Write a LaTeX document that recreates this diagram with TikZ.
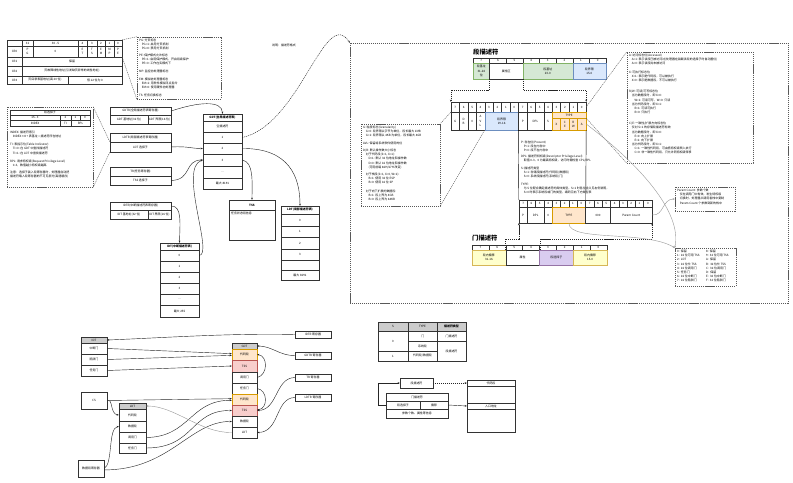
\documentclass[tikz,border=0pt]{standalone}
\usepackage{fontspec}
\setmainfont{Noto Sans CJK SC}
\usetikzlibrary{arrows.meta}
\definecolor{grnF}{HTML}{D5E8D4}\definecolor{grnD}{HTML}{82B366}
\definecolor{bluF}{HTML}{DAE8FC}\definecolor{bluD}{HTML}{6C8EBF}
\definecolor{orgF}{HTML}{FFE6CC}\definecolor{orgD}{HTML}{D79B00}
\definecolor{yelF}{HTML}{FFFFCC}\definecolor{yelD}{HTML}{D6B656}
\definecolor{purF}{HTML}{D9CCF0}\definecolor{purD}{HTML}{9673A6}
\definecolor{pnkF}{HTML}{F8CECC}\definecolor{pnkD}{HTML}{B85450}
\definecolor{hdrF}{HTML}{CCCCCC}
\newcommand{\tny}{\fontsize{4.2}{5.9}\selectfont}
\newcommand{\ind}{\hspace*{0.9em}}
\newcommand{\cel}[7][]{\node[cell,#1,minimum width={((#5)-(#3))*0.05cm},minimum height={((#6)-(#4))*0.05cm}] (#2) at ({((#3)+(#5))/2},{((#4)+(#6))/2}) {#7};}

\begin{document}
\begin{tikzpicture}[x=0.05cm, y=-0.05cm, line width=0.6pt,
  cell/.style={draw=black!80, inner sep=0pt, font=\tny, align=center},
  grn/.style={fill=grnF, draw=grnD},
  blu/.style={fill=bluF, draw=bluD},
  org/.style={fill=orgF, draw=orgD},
  yel/.style={fill=yelF, draw=yelD},
  pur/.style={fill=purF, draw=purD},
  pnk/.style={fill=pnkF, draw=pnkD},
  hdr/.style={fill=hdrF},
  dbox/.style={draw=black!65, dash pattern=on 1.6pt off 1.2pt},
  dline/.style={draw=black!65, dash pattern=on 1.6pt off 1.2pt},
  txt/.style={anchor=north west, align=left, inner sep=0pt, font=\tny},
  ttl/.style={anchor=west, inner sep=0pt, font=\fontsize{9}{10}\selectfont\bfseries},
  link/.style={draw=black!85, -{Stealth[length=3pt,width=2.4pt]}},
  dlink/.style={link, dash pattern=on 1.6pt off 1.2pt},
  glink/.style={link, draw=black!40}]
\useasboundingbox (0,0) rectangle (793,483);

\cel[dbox]{segArea}{350}{43}{788}{303}{}

\cel{crH0}{7}{40}{22}{46}{}
\foreach \n/\a/\b/\t in {1/22/33/31, 2/33/78/30 - 5, 3/78/87/4, 4/87/97/3, 5/97/105/2, 6/105/114/1, 7/114/122/0}
  {\cel{crH\n}{\a}{40}{\b}{46}{\t}}
\cel{cr0}{7}{46}{22}{57}{CR0}
\cel{crPG}{22}{46}{33}{57}{P\\G}
\cel{crRes}{33}{46}{78}{57}{0}
\cel{crET}{78}{46}{87}{57}{E\\T}
\cel{crTS}{87}{46}{97}{57}{T\\S}
\cel{crEM}{97}{46}{105}{57}{E\\M}
\cel{crMP}{105}{46}{114}{57}{M\\P}
\cel{crPE}{114}{46}{122}{57}{P\\E}
\cel{cr1}{7}{57}{22}{66}{CR1}
\cel{cr1v}{22}{57}{122}{66}{保留}
\cel{cr2}{7}{66}{22}{76}{CR2}
\cel{cr2v}{22}{66}{122}{76}{页故障线性地址(引发缺页异常的线性地址)}
\cel{cr3}{7}{76}{22}{84}{CR3}
\cel{cr3a}{22}{76}{68}{84}{页目录表基地址(高 20 位)}
\cel{cr3b}{68}{76}{122}{84}{低 12 位为 0}

\cel[dbox]{crNote}{137}{37}{221}{99}{}
\draw[dline] (crH7.north east) -- (crNote.north west);
\draw[dline] (crPE.south east) -- (crNote.south west);
\node[txt] (crT1) at (139,38.5) {PG: 分页标志\\\ind PG=1: 启用分页机制\\\ind PG=0: 禁用分页机制};
\node[txt] (crT2) at (139,53.5) {PE: 保护模式允许标志\\\ind PE=1: 启用保护模式，开启段级保护\\\ind PE=0: 工作在实模式下};
\node[txt] (crT3) at (139,69.5) {MP: 监控协处理器标志};
\node[txt] (crT4) at (139,77.5) {EM: 模拟协处理器标志\\\ind EM=1: 用软件模拟浮点指令\\\ind EM=0: 使用硬件协处理器};
\node[txt] (crT5) at (139,93.5) {TS: 任务切换标志};

\cel[dbox]{selNote}{7}{107}{93}{187}{}
\cel{selT}{10}{110}{90}{115}{段选择子}
\cel{selH1}{10}{115}{60}{120}{15 - 3}
\cel{selH2}{60}{115}{71}{120}{2}
\cel{selH3}{71}{115}{80}{120}{1}
\cel{selH4}{80}{115}{90}{120}{0}
\cel{selIdx}{10}{120}{60}{126}{INDEX}
\cel{selTI}{60}{120}{71}{126}{TI}
\cel{selRPL}{71}{120}{90}{126}{RPL}
\node[txt] (selT1) at (10,131) {INDEX: 描述符索引\\\ind INDEX×8 + 表基址 = 描述符所在地址};
\node[txt] (selT2) at (10,143) {TI: 表指示位(Table Indicator)\\\ind TI=0: 在 GDT 中查找描述符\\\ind TI=1: 在 LDT 中查找描述符};
\node[txt] (selT3) at (10,160) {RPL: 请求特权级(Request Privilege Level)\\\ind 0-3，数值越小特权级越高};
\node[txt] (selT4) at (10,171) {注意：选择子装入段寄存器时，处理器自动把\\描述符载入段寄存器的不可见部分(高速缓存)};

\cel{gdtrT}{110}{107}{171}{115}{GDTR(全局描述符表寄存器)}
\cel{gdtrB}{110}{115}{148}{124}{GDT 基地址(32 位)}
\cel{gdtrL}{148}{115}{171}{124}{GDT 界限(16 位)}
\cel{ldtrT}{110}{133}{171}{142}{LDTR(局部描述符表寄存器)}
\cel{ldtrSel}{110}{142}{171}{152}{LDT 选择子}
\cel{trT}{110}{167}{171}{176}{TR(任务寄存器)}
\cel{trSel}{110}{176}{171}{185}{TSS 选择子}
\cel{idtrT}{110}{202}{171}{210}{IDTR(中断描述符表寄存器)}
\cel{idtrB}{110}{210}{148}{219}{IDT 基地址(32 位)}
\cel{idtrL}{148}{210}{171}{219}{IDT 界限(16 位)}
\draw[dline] (selNote.north east) -- (ldtrSel.north west);
\draw[dline] (selNote.south east) -- (ldtrSel.south west);

\cel[font=\tny\bfseries]{gdtH}{203}{114}{242}{121}{GDT(全局描述符表)}
\foreach \n/\a/\b/\t in {0/121/132/空描述符, 1/132/143/1, 2/143/154/2, 3/154/166/3, 4/166/178/\ldots, 5/178/189/最大 8191}
  {\cel{gdt\n}{203}{\a}{242}{\b}{\t}}
\cel[font=\tny\bfseries]{tssH}{229}{200}{275}{210}{TSS}
\cel{tssB}{229}{210}{275}{240}{}
\node[txt] (tssT) at (231,212) {任务状态段信息};
\cel[font=\tny\bfseries]{ldtH}{281}{206}{319}{214}{LDT(局部描述符表)}
\foreach \n/\a/\b/\t in {0/214/226/0, 1/226/237/1, 2/237/249/2, 3/249/260/3, 4/260/270/{}, 5/270/280/最大 8191}
  {\cel{ldt\n}{281}{\a}{319}{\b}{\t}}
\cel[font=\tny\bfseries]{idtH}{160}{243}{199}{250}{IDT(中断描述符表)}
\foreach \n/\a/\b/\t in {0/250/261/0, 1/261/272/1, 2/272/283/2, 3/283/294/3, 4/294/305/\ldots, 5/305/317/最大 255}
  {\cel{idt\n}{160}{\a}{199}{\b}{\t}}

\draw[link] (gdtrT.east) .. controls (198,102) and (222,100) .. (gdtH.north);
\draw[link] (ldtrSel.east) .. controls (188,146) and (190,148.5) .. (gdt2.west);
\draw[link] (trSel.east) .. controls (192,180) and (184,160) .. (gdt3.west);
\draw[link] (idtrT.east) .. controls (182,206) and (180,222) .. (idtH.north);
\draw[link] (idt0.east) .. controls (214,255) and (178,168) .. (gdt3.west);
\draw[link] (gdt3.east) .. controls (254,162) and (252,182) .. (tssH.north);
\draw[link] (gdt2.east) .. controls (290,148) and (300,178) .. (ldtH.north);
\draw[dlink] (gdt1.east) .. controls (300,125) and (325,5) .. (segArea.north west);
\node[font=\tny] (segCap) at (284,45) {说明：描述符格式};

\node[ttl] (sdTitle) at (473,52) {段描述符};
\foreach \i [evaluate=\i as \b using {int(7-\i)}] in {0,...,7}
  {\cel{sdh\i}{473+\i*16.625}{58}{473+(\i+1)*16.625}{63}{\b}}
\cel[grn]{sdBaseHi}{473}{63}{489.63}{79}{段基址\\31-24\\位}
\cel{sdAttr}{489.63}{63}{522.88}{79}{属性区}
\cel[grn]{sdBaseLo}{522.88}{63}{572.75}{79}{段基址\\23-0}
\cel[blu]{sdLim}{572.75}{63}{606}{79}{段界限\\15-0}

\foreach \i [evaluate=\i as \b using {int(mod(15-\i,8))}] in {0,...,15}
  {\cel{exh\i}{451+\i*8.4375}{102}{451+(\i+1)*8.4375}{112}{\b}}
\cel{exG}{451}{112}{459.44}{130}{G}
\cel{exD}{459.44}{112}{467.88}{130}{D\\B}
\cel{exZ}{467.88}{112}{476.31}{130}{0}
\cel{exAvl}{476.31}{112}{484.75}{130}{A\\V\\L}
\cel[blu]{exLim}{484.75}{112}{518.5}{130}{段界限\\19-16}
\cel{exP}{518.5}{112}{526.94}{130}{P}
\cel{exDpl}{526.94}{112}{543.81}{130}{DPL}
\cel{exS}{543.81}{112}{552.25}{130}{S}
\cel[org]{exType}{552.25}{112}{586}{118}{TYPE}
\cel[org]{exX}{552.25}{118}{560.69}{130}{X}
\cel[org]{exE}{560.69}{118}{569.13}{130}{C\\E}
\cel[org]{exW}{569.13}{118}{577.56}{130}{R\\W}
\cel[org]{exA}{577.56}{118}{586}{130}{A}
\draw[dlink] (sdAttr.south west) -- ++(0,11) -| (exh0.north west);
\draw[dlink] (sdAttr.south east) -- ++(0,11) -| (exh15.north east);

\cel[dbox]{gNote}{361}{124}{440}{206}{}
\draw[dline] (exh0.south west) -- (gNote.north east);
\draw[dline] (exLim.south west) -- (gNote.south east);
\node[txt] (gn1) at (363,125.5) {G: 粒度标志(Granularity)\\\ind G=0: 段界限以字节为单位，段长最大 1MB\\\ind G=1: 段界限以 4KB 为单位，段长最大 4GB};
\node[txt] (gn2) at (363,142) {AVL: 保留给系统软件使用的位};
\node[txt] (gn3) at (363,149) {D/B: 默认操作数大小标志\\\ind 对于代码段(S=1, X=1):\\\ind\ind D=1: 默认 32 位地址和操作数\\\ind\ind D=0: 默认 16 位地址和操作数\\\ind\ind (可用前缀 66H/67H 改变)};
\node[txt] (gn4) at (363,172.5) {\ind 对于栈段(S=1, X=0, W=1):\\\ind\ind B=1: 使用 32 位 ESP\\\ind\ind B=0: 使用 16 位 SP};
\node[txt] (gn5) at (363,189.5) {\ind 对于向下扩展的数据段:\\\ind\ind B=1: 段上界为 4GB\\\ind\ind B=0: 段上界为 64KB};

\cel[dbox]{typeNote}{627}{52}{753}{163}{}
\draw[dline] (exh15.east) -- (typeNote.north west);
\draw[dline] (exType.south east) -- (typeNote.south west);
\node[txt] (tn1) at (629,53.5) {A: 访问标志位(Accessed)\\\ind A=1: 表示该段已被访问过(处理器在装载该段的选择子时自动置位)\\\ind A=0: 表示该段尚未被访问};
\node[txt] (tn2) at (629,70.5) {X: 可执行标志位\\\ind X=1: 表示是代码段，可以被执行\\\ind X=0: 表示是数据段，不可以被执行};
\node[txt] (tn3) at (629,90) {R/W: 可读/可写标志位\\\ind 当为数据段时，即 X=0:\\\ind\ind W=1: 可读可写，W=0: 只读\\\ind 当为代码段时，即 X=1:\\\ind\ind R=1: 可读可执行\\\ind\ind R=0: 只执行};
\node[txt] (tn4) at (629,122) {C/E: 一致性/扩展方向标志位\\\ind 仅对 S=1 的存储段描述符有效\\\ind 当为数据段时，即 X=0:\\\ind\ind E=0: 向上扩展\\\ind\ind E=1: 向下扩展\\\ind 当为代码段时，即 X=1:\\\ind\ind C=1: 一致性代码段，可由低特权级转入执行\\\ind\ind C=0: 非一致性代码段，只允许同特权级转移};

\node[txt] (un1) at (521,140.5) {P: 存在位(Present)\\\ind P=1: 段在内存中\\\ind P=0: 段不在内存中};
\node[txt] (un2) at (521,155) {DPL: 描述符特权级(Descriptor Privilege Level)\\\ind 取值 0-3，0 为最高特权级，访问时需检查 CPL/RPL};
\node[txt] (un3) at (521,167) {S: 描述符类型\\\ind S=1: 存储段描述符(代码段/数据段)\\\ind S=0: 系统段描述符(系统段/门)};
\node[txt] (un4) at (521,183) {TYPE:\\\ind 与 S 位配合确定描述符的具体类型。S=1 时各位含义见右侧说明，\\\ind S=0 时表示系统段或门的类型，编码见右下方类型表};

\foreach \i [evaluate=\i as \b using {int(mod(15-\i,8))}] in {0,...,15}
  {\cel{gah\i}{519+\i*8.3125}{200}{519+(\i+1)*8.3125}{207}{\b}}
\cel{gaP}{519}{207}{527.31}{223}{P}
\cel{gaDpl}{527.31}{207}{543.94}{223}{DPL}
\cel{gaS}{543.94}{207}{552.25}{223}{0}
\cel[org]{gaType}{552.25}{207}{585.5}{223}{TYPE}
\cel{gaZero}{585.5}{207}{610.44}{223}{000}
\cel{gaPar}{610.44}{207}{652}{223}{Param Count}
\draw (exP.south west) -- (gah0.north west);
\draw (exA.south east) -- (gah7.north east);

\node[ttl] (gdTitle) at (472,238) {门描述符};
\foreach \i [evaluate=\i as \b using {int(7-\i)}] in {0,...,7}
  {\cel{gdh\i}{472+\i*16.875}{245}{472+(\i+1)*16.875}{250}{\b}}
\cel[yel]{gdOffHi}{472}{250}{505.75}{265}{段内偏移\\31-16}
\cel{gdAttr}{505.75}{250}{539.5}{265}{属性}
\cel[pur]{gdSel}{539.5}{250}{573.25}{265}{段选择子}
\cel[yel]{gdOffLo}{573.25}{250}{607}{265}{段内偏移\\15-0}
\draw[dlink] (gdAttr.north west) -- ++(0,-11) -| (gaP.south west);
\draw[dlink] (gdAttr.north east) -- ++(0,-11) -| (gaPar.south east);

\cel[dbox]{pcNote}{675}{187}{735}{211}{}
\node[txt] (pcT) at (677,189) {Param Count: 参数个数\\\ind 仅在调用门中有效。发生特权级\\\ind 切换时，处理器从调用者栈中复制\\\ind Param Count 个参数到新的栈中};
\cel[dbox]{typeList}{675}{248}{736}{286}{}
\node[txt] (tlL) at (677,250) {0:\ \ 保留\\1:\ \ 16 位可用 TSS\\2:\ \ LDT\\3:\ \ 16 位忙 TSS\\4:\ \ 16 位调用门\\5:\ \ 任务门\\6:\ \ 16 位中断门\\7:\ \ 16 位陷阱门};
\node[txt] (tlR) at (706,250) {8:\ \ 保留\\9:\ \ 32 位可用 TSS\\A:\ \ 保留\\B:\ \ 32 位忙 TSS\\C:\ \ 32 位调用门\\D:\ \ 保留\\E:\ \ 32 位中断门\\F:\ \ 32 位陷阱门};
\draw[glink] (gaPar.east) .. controls (664,216) and (662,199) .. (pcNote.west);
\draw[glink] (exA.east) .. controls (640,165) and (682,212) .. (typeList.north west);
\draw[glink] (gaType.south) .. controls (569,242) and (645,230) .. (typeList.north west);

\cel[hdr]{bIdtH}{81}{337}{107}{343}{IDT}
\cel{bIdt1}{81}{343}{107}{354}{中断门}
\cel{bIdt2}{81}{354}{107}{365}{陷阱门}
\cel{bIdt3}{81}{365}{107}{376}{任务门}
\cel{bCs}{81}{392}{107}{409}{CS}
\cel[hdr]{bLdtH}{119}{403}{146}{409}{LDT}
\cel{bLdt1}{119}{409}{146}{421}{代码段}
\cel{bLdt2}{119}{421}{146}{432}{数据段}
\cel{bLdt3}{119}{432}{146}{443}{调用门}
\cel{bLdt4}{119}{443}{146}{453}{任务门}
\cel{bDs}{78}{460}{104}{477}{数据段寄存器}
\cel[hdr]{bGdtH}{232}{343}{257}{349}{GDT}
\cel[org]{bCode1}{232}{349}{257}{360}{代码段}
\cel[pnk]{bTss1}{232}{360}{257}{372}{TSS}
\cel{bCall}{232}{372}{257}{383}{调用门}
\cel{bTask}{232}{383}{257}{394}{任务门}
\cel[org]{bCode2}{232}{394}{257}{405}{代码段}
\cel[pnk]{bTss2}{232}{405}{257}{416}{TSS}
\cel{bData}{232}{416}{257}{427}{数据段}
\cel{bLdt}{232}{427}{257}{438}{LDT}
\cel{rIdtr}{295}{331}{331}{338}{IDTR 寄存器}
\cel{rGdtr}{295}{352}{331}{359}{GDTR 寄存器}
\cel{rTr}{295}{374}{331}{381}{TR 寄存器}
\cel{rLdtr}{295}{394}{331}{401}{LDTR 寄存器}

\draw[link] (rIdtr.west) .. controls (230,333) and (160,338) .. (bIdtH.east);
\draw[link] (rGdtr.west) .. controls (280,356) and (272,346) .. (bGdtH.east);
\draw[link] (rTr.west) .. controls (275,378) and (278,410) .. (bTss2.east);
\draw[link] (rLdtr.west) .. controls (275,398) and (280,432) .. (bLdt.east);
\draw[link] (bIdt1.east) -- ([yshift=1.2pt]bCode1.west);
\draw[link] (bIdt2.east) -- ([yshift=-1.2pt]bCode1.west);
\draw[link] (bIdt3.east) -- (bTss1.west);
\draw[link] (bCs.east) -- ([yshift=1.2pt]bCode2.west);
\draw[link] (bCs.east) .. controls (113,398) and (110,414) .. (bLdt1.west);
\draw[link] (bDs.east) .. controls (113,464) and (108,428) .. (bLdt2.west);
\draw[link] ([yshift=-2pt]bDs.east) .. controls (170,470) and (190,421) .. (bData.west);
\draw[link] (bLdt3.east) .. controls (190,437) and (190,400) .. ([yshift=-1.2pt]bCode2.west);
\draw[link] (bLdt4.east) .. controls (195,448) and (190,410) .. (bTss2.west);
\draw[glink] (bLdt.west) .. controls (200,433) and (175,406) .. (bLdtH.east);
\draw[link] (bCall.east) .. controls (268,375) and (268,356) .. (bCode1.east);
\draw[link] (bTask.east) .. controls (268,390) and (268,409) .. ([yshift=1pt]bTss2.east);

\cel[hdr]{tbS}{378}{322}{408}{331}{S}
\cel[hdr]{tbT}{408}{322}{437}{331}{TYPE}
\cel[hdr,font=\tny\bfseries]{tbK}{437}{322}{466}{331}{描述符类型}
\cel{tbS0}{378}{331}{408}{351}{0}
\cel{tbS1}{378}{351}{408}{361}{1}
\cel{tbT1}{408}{331}{437}{341}{门}
\cel{tbT2}{408}{341}{437}{351}{系统段}
\cel{tbT3}{408}{351}{437}{361}{代码段/数据段}
\cel{tbK1}{437}{331}{466}{341}{门描述符}
\cel{tbK2}{437}{341}{466}{361}{段描述符}

\cel{gmDesc}{400}{378}{433}{388}{段描述符}
\cel{gmGate}{386}{393}{448}{401}{门描述符}
\cel{gmSel}{386}{401}{420}{409}{段选择子}
\cel{gmOff}{420}{401}{448}{409}{偏移}
\cel{gmAttr}{386}{409}{448}{418}{参数个数、属性等信息}
\cel{gmSeg}{467}{380}{515}{386}{代码段}
\cel{gmUp}{467}{386}{515}{403}{}
\cel{gmEntry}{467}{403}{515}{409}{入口地址}
\cel{gmLow}{467}{409}{515}{432}{}
\draw[link] (gmSel.west) -- ++(-8,0) |- (gmDesc.west);
\draw[dlink] (gmDesc.east) -- (gmSeg.west);
\draw[link] (gmOff.east) -- (gmEntry.west);
\end{tikzpicture}
\end{document}
